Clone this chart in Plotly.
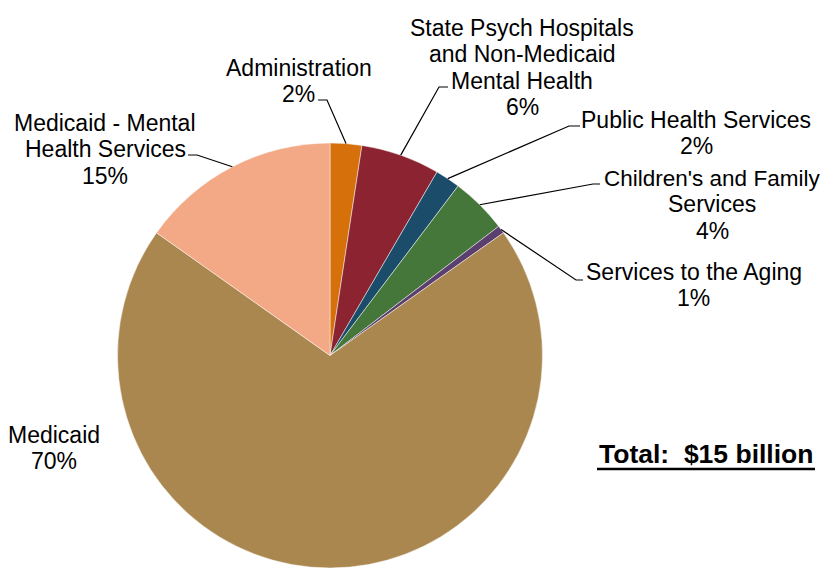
import math
import plotly.graph_objects as go

# ---- data (percent of total $15 billion) ----
categories = ["Administration",
              "State Psych Hospitals and Non-Medicaid Mental Health",
              "Public Health Services",
              "Children's and Family Services",
              "Services to the Aging",
              "Medicaid",
              "Medicaid - Mental Health Services"]
shares = [2.4, 6.0, 1.9, 4.3, 0.6, 69.6, 15.2]
colors = ["#D5700A", "#8B2331", "#1B4D6B", "#46773A", "#5B3F6E", "#AB8750", "#F3A886"]
label_lines = [["Administration"],
               ["State Psych Hospitals", "and Non-Medicaid", "Mental Health"],
               ["Public Health Services"],
               ["Children's and Family", "Services"],
               ["Services to the Aging"],
               ["Medicaid"],
               ["Medicaid - Mental", "Health Services"]]
total_text = "Total:  $15 billion"

# page has an 8px body margin; coordinates below are in screenshot pixels
OFF = 8
W, H = 830 - OFF, 568 - OFF
CX, CY, R = 330, 355.5, 212.5

def px(x):
    return (x - OFF) / W

def py(y):
    return 1 - (y - OFF) / H

fig = go.Figure(go.Pie(
    labels=categories, values=shares, sort=False, direction="clockwise",
    rotation=0, textinfo="none", hoverinfo="label+percent",
    marker=dict(colors=colors, line=dict(color="rgba(255,255,255,0.6)", width=0.8)),
    domain=dict(x=[px(CX - R), px(CX + R)], y=[0, py(CY - R)]),
    showlegend=False,
))

total = sum(shares)
pct = [round(100 * v / total) for v in shares]

# centre x and cap-centre y of first line for each label; line spacing
label_pos = [(298.5, 67), (522, 27), (696, 119), (712, 177), (693.5, 270.5), (54, 434), (105, 122)]
LS = 26.3
elbows = [((318, 100), (327, 100)),
          ((448, 87), (439, 87)),
          ((580, 126), (569, 126)),
          ((600, 184), (593, 184)),
          ((583, 280), (576, 280)),
          None,
          ((188, 155), (197, 155))]

font_reg = dict(family="Liberation Sans, Arial, sans-serif", size=23, color="black")

annotations = []
shapes = []
cum = 0.0
for i, v in enumerate(shares):
    mid = (cum + v / 2) / total * 2 * math.pi
    cum += v
    ex, ey = CX + R * math.sin(mid), CY - R * math.cos(mid)
    lx, ly = label_pos[i]
    lines = label_lines[i] + [f"{pct[i]}%"]
    for k, t in enumerate(lines):
        fnt = dict(font_reg)
        if t == "Children's and Family":
            fnt["size"] = 22.5
        annotations.append(dict(
            x=px(lx), y=py(ly + k * LS + 1), xref="paper", yref="paper",
            xanchor="center", yanchor="middle",
            text=t, showarrow=False, align="center", font=fnt))
    if elbows[i] is not None:
        (ax, ay), (bx, by) = elbows[i]
        path = f"M {px(ax)} {py(ay)} L {px(bx)} {py(by)} L {px(ex)} {py(ey)}"
        shapes.append(dict(type="path", xref="paper", yref="paper", path=path,
                           line=dict(color="black", width=1.2)))

annotations.append(dict(
    x=px(706), y=py(454), xref="paper", yref="paper", xanchor="center", yanchor="middle",
    text=f"<b>{total_text}</b>", showarrow=False,
    font=dict(family="Liberation Sans, Arial, sans-serif", size=26.5, color="black")))
shapes.append(dict(type="line", xref="paper", yref="paper",
                   x0=px(597), x1=px(815), y0=py(469), y1=py(469),
                   line=dict(color="black", width=2.5)))

fig.update_layout(
    width=W, height=H, margin=dict(l=0, r=0, t=0, b=0),
    paper_bgcolor="white", plot_bgcolor="white",
    annotations=annotations, shapes=shapes,
)

fig.write_html("out.html")
